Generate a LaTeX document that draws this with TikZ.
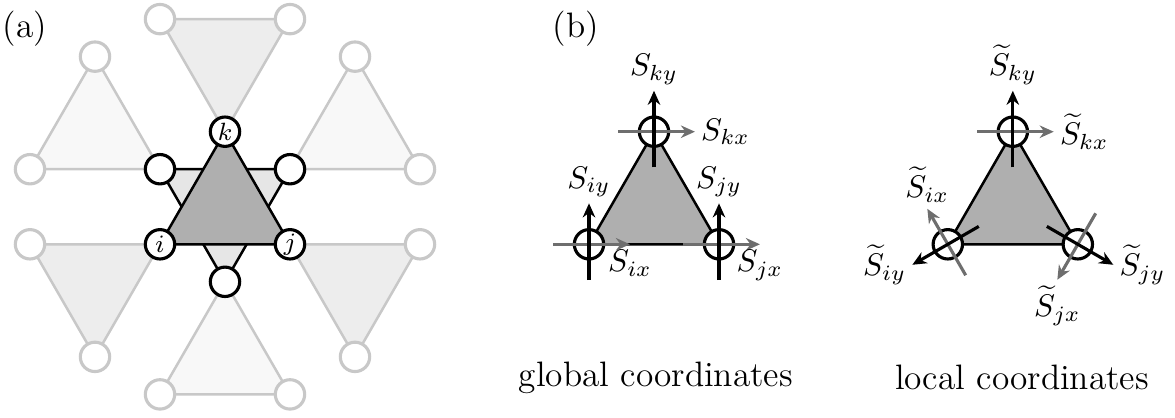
\documentclass[tikz,border=0pt]{standalone}
\usepackage{amsmath}
\usetikzlibrary{arrows.meta, calc, backgrounds}
\definecolor{latgray}{HTML}{C8C8C8}
\definecolor{upfill}{HTML}{F8F8F8}
\definecolor{downfill}{HTML}{EDEDED}
\definecolor{hexfill}{HTML}{E6E6E6}
\definecolor{trifill}{HTML}{AFAFAF}
\definecolor{spingray}{HTML}{6E6E6E}

\begin{document}
\begin{tikzpicture}[
  x=20.8pt, y=20.8pt,
  every node/.style={font=\fontsize{9.6}{11}\selectfont, inner sep=1.5pt},
  site/.style={circle, draw, line width=1pt, fill=white, minimum size=9.4pt, inner sep=0pt, font=\footnotesize},
  lsite/.style={site, draw=latgray},
  ledge/.style={draw=latgray, line width=0.8pt},
  bedge/.style={draw=black, line width=0.8pt},
  spinx/.style={draw=spingray, line width=1pt, -{Stealth[length=4.5pt, width=4pt]}},
  spiny/.style={spinx, draw=black},
  caption/.style={font=\fontsize{11.3}{13}\selectfont},
]
\useasboundingbox (-3.4615, -2.657) rectangle (14.615, 3.7585);

% (a) kagome lattice
\node[caption] (lbla) at (-3.08, 3.31) {(a)};
\node[site] (ai) at (-1, 0) {$i$};
\node[site] (aj) at (1, 0) {$j$};
\node[site] (ak) at (0, 1.732) {$k$};
\node[site] (h1) at (-1, 1.155) {};
\node[site] (h2) at (1, 1.155) {};
\node[site] (h3) at (0, -0.577) {};

\node[lsite] (t1) at (-1, 3.464) {};
\node[lsite] (t2) at (1, 3.464) {};
\node[lsite] (ul1) at (-3, 1.155) {};
\node[lsite] (ul2) at (-2, 2.887) {};
\node[lsite] (ur1) at (3, 1.155) {};
\node[lsite] (ur2) at (2, 2.887) {};
\node[lsite] (ll1) at (-3, 0) {};
\node[lsite] (ll2) at (-2, -1.732) {};
\node[lsite] (lr1) at (3, 0) {};
\node[lsite] (lr2) at (2, -1.732) {};
\node[lsite] (b1) at (-1, -2.309) {};
\node[lsite] (b2) at (1, -2.309) {};

\begin{scope}[on background layer]
\filldraw[ledge, fill=downfill] (ak.center) -- (t1.center) -- (t2.center) -- cycle;
\filldraw[ledge, fill=upfill] (h1.center) -- (ul1.center) -- (ul2.center) -- cycle;
\filldraw[ledge, fill=upfill] (h2.center) -- (ur1.center) -- (ur2.center) -- cycle;
\filldraw[ledge, fill=downfill] (ai.center) -- (ll1.center) -- (ll2.center) -- cycle;
\filldraw[ledge, fill=downfill] (aj.center) -- (lr1.center) -- (lr2.center) -- cycle;
\filldraw[ledge, fill=upfill] (h3.center) -- (b1.center) -- (b2.center) -- cycle;
\filldraw[bedge, fill=hexfill] (h1.center) -- (h2.center) -- (h3.center) -- cycle;
\filldraw[bedge, fill=trifill] (ai.center) -- (aj.center) -- (ak.center) -- cycle;
\end{scope}

% (b) global frame
\node[caption] (lblb) at (5.4, 3.31) {(b)};
\node[site] (gi) at (5.6, 0) {};
\node[site] (gj) at (7.6, 0) {};
\node[site] (gk) at (6.6, 1.732) {};
\begin{scope}[on background layer]
\filldraw[bedge, fill=trifill] (gi.center) -- (gj.center) -- (gk.center) -- cycle;
\end{scope}
\draw[spinx] (gk) ++(-0.55, 0) -- ++(1.18, 0) node[right] {$S_{kx}$};
\draw[spiny] (gk) ++(0, -0.55) -- ++(0, 1.18) node[above] {$S_{ky}$};
\draw[spinx] (gi) ++(-0.55, 0) -- ++(1.18, 0) node[below] {$S_{ix}$};
\draw[spiny] (gi) ++(0, -0.55) -- ++(0, 1.18) node[above] {$S_{iy}$};
\draw[spinx] (gj) ++(-0.55, 0) -- ++(1.18, 0) node[below] {$S_{jx}$};
\draw[spiny] (gj) ++(0, -0.55) -- ++(0, 1.18) node[above] {$S_{jy}$};
\node[caption] (glob) at (6.63, -2.05) {global coordinates};

% (b) local frame
\node[site] (ci) at (11.12, 0) {};
\node[site] (cj) at (13.12, 0) {};
\node[site] (ck) at (12.12, 1.732) {};
\begin{scope}[on background layer]
\filldraw[bedge, fill=trifill] (ci.center) -- (cj.center) -- (ck.center) -- cycle;
\end{scope}
\draw[spinx] (ck) ++(-0.55, 0) -- ++(1.18, 0) node[right] {$\widetilde{S}_{kx}$};
\draw[spiny] (ck) ++(0, -0.55) -- ++(0, 1.18) node[above] {$\widetilde{S}_{ky}$};
\draw[spinx] (ci) ++(300:0.55) -- ++(120:1.18) node[above] {$\widetilde{S}_{ix}$};
\draw[spiny] (ci) ++(30:0.55) -- ++(210:1.18) node[left] {$\widetilde{S}_{iy}$};
\draw[spinx] (cj) ++(60:0.55) -- ++(240:1.18) node[below] {$\widetilde{S}_{jx}$};
\draw[spiny] (cj) ++(150:0.55) -- ++(330:1.18) node[right] {$\widetilde{S}_{jy}$};
\node[caption] (loc) at (12.26, -2.05) {local coordinates};
\end{tikzpicture}
\end{document}
